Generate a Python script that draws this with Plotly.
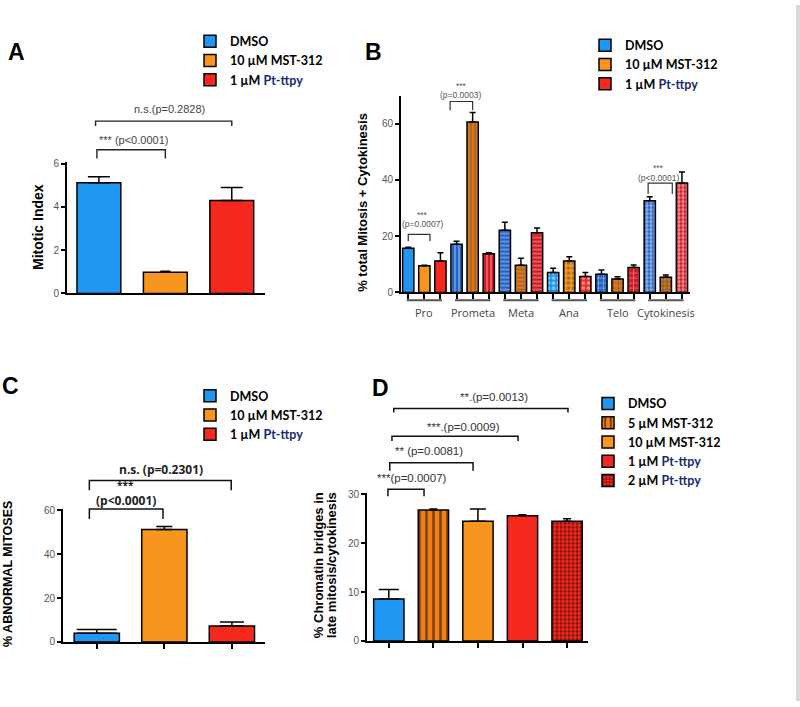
import plotly.graph_objects as go

W, H = 800, 707

# ---- data ----
a_groups = ["DMSO", "10 µM MST-312", "1 µM Pt-ttpy"]
a_mitotic = [5.12, 0.98, 4.3]
a_err = [0.28, 0.05, 0.6]

b_phases = ["Pro", "Prometa", "Meta", "Ana", "Telo", "Cytokinesis"]
b_dmso = [15.7, 17.1, 22.1, 7.1, 6.5, 32.6]
b_dmso_err = [0.4, 1.1, 2.9, 1.5, 1.5, 1.4]
b_mst = [9.5, 60.6, 9.7, 11.2, 4.8, 5.4]
b_mst_err = [0.2, 3.4, 2.5, 1.5, 0.8, 0.8]
b_pt = [11.2, 13.8, 21.2, 5.7, 8.9, 38.9]
b_pt_err = [2.9, 0.3, 1.7, 1.4, 0.9, 3.9]

c_abnormal = [3.9, 51.2, 7.3]
c_err = [1.8, 1.3, 1.8]

d_groups = ["DMSO", "5 µM MST-312", "10 µM MST-312", "1 µM Pt-ttpy", "2 µM Pt-ttpy"]
d_bridges = [8.6, 26.8, 24.5, 25.6, 24.5]
d_err = [1.9, 0.2, 2.5, 0.2, 0.5]

BLUE, ORANGE, RED = "#1e96f2", "#f8951f", "#f4281c"
PT_COLOR = "#1c2a6e"


def fx(px):
    return px / W


def fy(py):
    return 1 - py / H


def legend_name(name):
    # "Pt-ttpy" is set in a dark navy in the original legends
    return name.replace("Pt-ttpy", f'<span style="color:{PT_COLOR}">Pt-ttpy</span>')


fig = go.Figure()
outline = dict(color="black", width=1.5)

# ---- A: mitotic index ----
a_colors = [BLUE, ORANGE, RED]
a_capw = [11, 5, 11]
for i, name in enumerate(a_groups):
    fig.add_trace(go.Bar(
        x=[i], y=[a_mitotic[i]], width=0.66, name=legend_name(name),
        marker=dict(color=a_colors[i], line=outline),
        error_y=dict(type="data", array=[a_err[i]], arrayminus=[0], color="black",
                     thickness=1.5, width=a_capw[i]),
        xaxis="x", yaxis="y", legend="legend"))

# ---- B: mitotic phases ----
dark = {"DMSO": "#2164c6", "MST": "#d8771c", "PT": "#d21820"}
base = {"DMSO": BLUE, "MST": ORANGE, "PT": RED}
dots = {"DMSO": "#9fd0ff", "MST": "#ffd49a", "PT": "#ffa0a0"}
lines = {"DMSO": "#173f7e", "MST": "#6e3306", "PT": "#6e0a10"}
shapes_b = ["", "|", "-", ".", "+", "."]
b_series = [("DMSO", "DMSO", b_dmso, b_dmso_err),
            ("MST", "10 µM MST-312", b_mst, b_mst_err),
            ("PT", "1 µM Pt-ttpy", b_pt, b_pt_err)]
for s, (key, name, vals, errs) in enumerate(b_series):
    xs = [g * 3 + s for g in range(len(b_phases))]
    colors = [base[key], dark[key], dark[key], base[key], dark[key], dark[key]]
    fg = [lines[key], lines[key], lines[key], dots[key], lines[key], "black"]
    fig.add_trace(go.Bar(
        x=xs, y=vals, width=0.7, name=legend_name(name),
        marker=dict(color=colors, line=outline,
                    pattern=dict(shape=shapes_b, fgcolor=fg, size=[4, 4, 4, 5, 5, 4],
                                 solidity=[0.3, 0.3, 0.3, 0.4, 0.25, 0.55])),
        error_y=dict(type="data", array=errs, arrayminus=[0] * len(errs), color="black",
                     thickness=1.5, width=3),
        xaxis="x2", yaxis="y2", legend="legend2"))

# ---- C: abnormal mitoses ----
c_capw = [20, 8, 12]
for i, name in enumerate(a_groups):
    fig.add_trace(go.Bar(
        x=[i], y=[c_abnormal[i]], width=0.67, name=legend_name(name),
        marker=dict(color=a_colors[i], line=outline),
        error_y=dict(type="data", array=[c_err[i]], arrayminus=[0], color="black",
                     thickness=1.5, width=c_capw[i]),
        xaxis="x3", yaxis="y3", legend="legend3"))

# ---- D: chromatin bridges ----
d_colors = [BLUE, "#f07f14", ORANGE, RED, RED]
d_pattern = [dict(), dict(shape="|", fgcolor="black", size=7, solidity=0.35), dict(), dict(),
             dict(shape=".", fgcolor="black", size=4, solidity=0.45)]
d_capw = [10, 4, 8, 4, 4]
for i, name in enumerate(d_groups):
    fig.add_trace(go.Bar(
        x=[i], y=[d_bridges[i]], width=0.68, name=legend_name(name),
        marker=dict(color=d_colors[i], line=outline, pattern=d_pattern[i]),
        error_y=dict(type="data", array=[d_err[i]], arrayminus=[0], color="black",
                     thickness=1.5, width=d_capw[i]),
        xaxis="x4", yaxis="y4", legend="legend4"))

# ---- axes ----
tickfont = dict(family="Liberation Sans", size=10, color="#555")
axis_common = dict(showline=True, linecolor="black", linewidth=2, showgrid=False,
                   zeroline=False, tickcolor="black", tickwidth=1.5, tickfont=tickfont)

fig.update_layout(
    xaxis=dict(axis_common, domain=[fx(67), fx(265)], range=[-0.48, 2.5], anchor="y",
               showticklabels=False, ticks=""),
    yaxis=dict(axis_common, domain=[fy(293), fy(159)], range=[0, 6.1], anchor="x",
               tickvals=[0, 2, 4, 6], ticks="outside", ticklen=4),
    xaxis2=dict(axis_common, domain=[fx(401), fx(690)], range=[-0.45, 17.5], anchor="y2",
                showticklabels=False, ticks="outside", ticklen=5,
                tickvals=list(range(3 * len(b_phases)))),
    yaxis2=dict(axis_common, domain=[fy(292), fy(92)], range=[0, 70], anchor="x2",
                tickvals=[0, 20, 40, 60], ticks="outside", ticklen=4),
    xaxis3=dict(axis_common, domain=[fx(63), fx(265)], range=[-0.5, 2.49], anchor="y3",
                showticklabels=False, ticks="outside", ticklen=5, tickvals=[0, 1, 2]),
    yaxis3=dict(axis_common, domain=[fy(647), fy(512)], range=[0, 60.5], anchor="x3",
                tickvals=[0, 20, 40, 60], ticks="outside", ticklen=4),
    xaxis4=dict(axis_common, domain=[fx(367), fx(588)], range=[-0.49, 4.47], anchor="y4",
                showticklabels=False, ticks="outside", ticklen=5,
                tickvals=list(range(len(d_groups)))),
    yaxis4=dict(axis_common, domain=[fy(646), fy(496)], range=[0, 30.2], anchor="x4",
                tickvals=[0, 10, 20, 30], ticks="outside", ticklen=4),
)

# ---- legends ----
legfont = dict(family="Lato", size=12.5, color="black", weight="bold")
leg_common = dict(xanchor="left", yanchor="top", font=legfont, bgcolor="rgba(0,0,0,0)",
                  itemclick=False, itemdoubleclick=False, traceorder="normal")
fig.update_layout(
    legend=dict(leg_common, x=fx(190), y=fy(22)),
    legend2=dict(leg_common, x=fx(585), y=fy(26)),
    legend3=dict(leg_common, x=fx(190), y=fy(382)),
    legend4=dict(leg_common, x=fx(588), y=fy(390)),
)

# ---- brackets, labels, annotations ----
shapes = []
ann = []


def bracket(ax, x0, x1, top, leg_l, leg_r=None, color="#222", w=1.4):
    leg_r = leg_l if leg_r is None else leg_r
    path = f"M{x0},{fy(leg_l)} L{x0},{fy(top)} L{x1},{fy(top)} L{x1},{fy(leg_r)}"
    shapes.append(dict(type="path", xref=ax, yref="paper", path=path,
                       line=dict(color=color, width=w)))


def text(t, x, y_px, size, color="#333", xref="paper", bold=False, family="Liberation Sans",
         angle=0, xanchor="center"):
    ann.append(dict(text=t, x=x, y=fy(y_px), xref=xref, yref="paper", showarrow=False,
                    xanchor=xanchor, yanchor="middle", textangle=angle,
                    font=dict(family=family, size=size, color=color,
                              weight="bold" if bold else "normal")))


# panel letters
for letter, (lx, ly) in {"A": (16, 48), "B": (373, 48), "C": (10, 387), "D": (380, 389)}.items():
    text(letter, fx(lx), ly, 23, color="black", bold=True)

# y-axis titles
text("Mitotic Index", fx(38.5), 226, 14, color="black", bold=True, angle=-90)
text("% total Mitosis + Cytokinesis", fx(363), 201, 13, color="black", bold=True, angle=-90)
text("% ABNORMAL MITOSES", fx(8), 578, 12.5, color="black", bold=True, angle=-90)
text("% Chromatin bridges in", fx(318), 569, 13, color="black", bold=True, angle=-90)
text("late mitosis/cytokinesis", fx(331), 569, 13, color="black", bold=True, angle=-90)

# A brackets
bracket("x", -0.03, 1.0, 147, 156)
text("*** (p<0.0001)", -0.03, 137, 11, xref="x", color="#444", xanchor="left")
bracket("x", -0.05, 2.0, 118, 123)
text("n.s.(p=0.2828)", 1.07, 106, 11, xref="x", color="#444")

# B brackets
bracket("x2", 0, 1.35, 233, 240, color="#333", w=1.2)
text("***", 0.9, 213, 8.5, xref="x2", color="#555")
text("(p=0.0007)", 0.9, 222.5, 8.5, xref="x2", color="#555")
bracket("x2", 2.6, 4.0, 98, 107, color="#333", w=1.2)
text("***", 3.3, 82, 8.5, xref="x2", color="#555")
text("(p=0.0003)", 3.3, 91.5, 8.5, xref="x2", color="#555")
bracket("x2", 14.9, 16.4, 181, 192, color="#333", w=1.2)
text("***", 15.55, 166, 8.5, xref="x2", color="#555")
text("(p<0.0001)", 15.55, 175.5, 8.5, xref="x2", color="#555")

# B phase underlines and labels
for g, phase in enumerate(b_phases):
    first, last = g * 3, g * 3 + 2
    shapes.append(dict(type="line", xref="x2", yref="paper", x0=first - 0.1, x1=last + 0.1,
                       y0=fy(300), y1=fy(300), line=dict(color="#555", width=2)))
    text(phase, g * 3 + 1, 312, 11, xref="x2", color="#444", family="Open Sans")

# C brackets
bracket("x3", -0.11, 0.98, 512, 522, color="#111", w=1.5)
text("***", 0.43, 488, 10, xref="x3", color="#222", bold=True, family="Open Sans")
text("(p<0.0001)", 0.43, 503, 12, xref="x3", color="#222", bold=True, family="Open Sans")
bracket("x3", -0.11, 1.99, 483, 493, color="#111", w=1.5)
text("n.s. (p=0.2301)", 0.95, 472, 12, xref="x3", color="#222", bold=True, family="Open Sans")

# D brackets
bracket("x4", -0.02, 0.79, 492, 499, color="#111", w=1.5)
text("***(p=0.0007)", 0.52, 480, 11.5, xref="x4", color="#333")
bracket("x4", 0.02, 1.89, 465, 473, color="#111", w=1.5)
text("** (p=0.0081)", 0.9, 453, 11.5, xref="x4", color="#333")
bracket("x4", 0.07, 2.9, 438, 443, color="#111", w=1.5)
text("***.(p=0.0009)", 1.67, 429, 11.5, xref="x4", color="#333")
bracket("x4", 0.11, 4.02, 410, 414, color="#111", w=1.5)
text("**.(p=0.0013)", 2.36, 398, 11.5, xref="x4", color="#333")

# light gray page edge on the right
shapes.append(dict(type="rect", xref="paper", yref="paper", x0=fx(796), x1=1, y0=0, y1=1,
                   fillcolor="#d9d9d9", line=dict(width=0), layer="below"))

fig.update_layout(
    width=W, height=H, margin=dict(l=0, r=0, t=0, b=0),
    paper_bgcolor="white", plot_bgcolor="white", barmode="overlay",
    shapes=shapes, annotations=ann,
)

# drop the browser's default body margin so the figure sits at the page origin
fig.write_html("out.html", config={"displayModeBar": False},
               post_script="document.body.style.margin='0';")
